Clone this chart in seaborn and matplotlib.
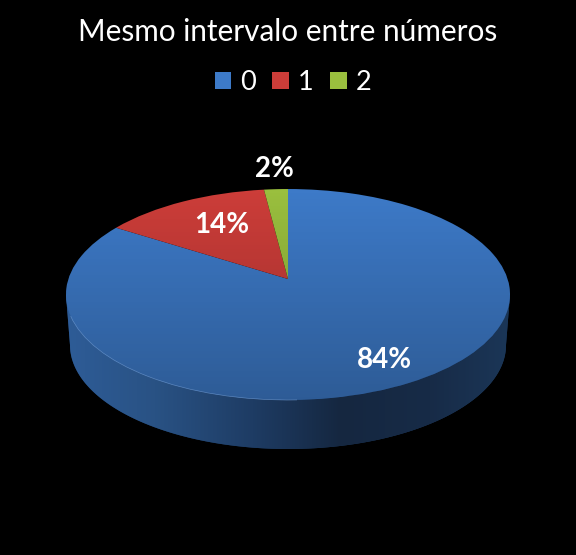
import numpy as np
import matplotlib
matplotlib.use("Agg")
import matplotlib.pyplot as plt
import seaborn as sns
from matplotlib.colors import LinearSegmentedColormap
from matplotlib.patches import Circle, PathPatch, Polygon
from matplotlib.path import Path
from matplotlib.transforms import Transform

title = "Mesmo intervalo entre números"
categories = ["0", "1", "2"]
shares = [84, 14, 2]

sns.set_theme(style="dark", rc={"axes.facecolor": "black", "figure.facecolor": "black"})
plt.rcParams["font.family"] = ["Lato", "DejaVu Sans"]
colors = sns.color_palette(["#3d7ac8", "#cc3d39", "#9abf3e"])


class Perspective(Transform):
    # tilts the unit circle of the pie so the centre sits above the ellipse middle
    input_dims = 2
    output_dims = 2
    is_separable = False
    has_inverse = False

    def transform_non_affine(self, xy):
        xy = np.asarray(xy, dtype=float)
        w = 1 + 0.147 * xy[:, 1]
        return np.column_stack([288 + 219.6 * xy[:, 0] / w, 279 - 103.2 * xy[:, 1] / w])


fig, ax = plt.subplots(figsize=(5.76, 5.55), dpi=100)
fig.subplots_adjust(0, 0, 1, 1)

wedges, _, pct = ax.pie(shares, colors=colors, startangle=90, counterclock=False,
                        autopct="%1.0f%%", wedgeprops={"linewidth": 0, "zorder": 2})
persp = Perspective() + ax.transData
for w in wedges:
    w.set_transform(persp)

# side wall of the disc, horizontal shading
t = np.linspace(np.pi, 2 * np.pi, 200)
wall_xy = np.column_stack([288 + 218 * np.cos(t), 345 - 104 * np.sin(t)])
wall_xy = np.vstack([[66, 295], wall_xy, [510, 295]])
wall = Polygon(wall_xy, closed=True, transform=ax.transData, facecolor="#1c3a60", linewidth=0, zorder=1)
ax.add_patch(wall)
wall_cmap = LinearSegmentedColormap.from_list(
    "wall", [(0, "#2e5c97"), (0.2, "#295284"), (0.42, "#1e3c64"), (0.62, "#152740"),
             (0.82, "#172b47"), (1, "#1b3657")])
wall_img = ax.imshow(np.linspace(0, 1, 256)[None, :], cmap=wall_cmap, extent=(66, 510, 449, 295),
                     aspect="auto", zorder=1.5)
wall_img.set_clip_path(wall)

# darkening from the back of the top face to the front
shade = np.zeros((256, 1, 4))
shade[:, 0, 3] = np.linspace(0, 0.25, 256)
top_face = Circle((0, 0), 1, transform=persp, facecolor="none", linewidth=0, zorder=2.4)
ax.add_patch(top_face)
shade_img = ax.imshow(shade, extent=(66, 510, 400, 189), aspect="auto", zorder=2.5)
shade_img.set_clip_path(top_face)

# thin highlight on the front left rim
ax.add_patch(PathPatch(Path.arc(200, 272), transform=persp, facecolor="none",
                       edgecolor="#6f9ad2", linewidth=0.5, alpha=0.7, zorder=3))

ax.set_aspect("auto")
ax.set_xlim(0, 576)
ax.set_ylim(555, 0)
ax.axis("off")

for txt, pos in zip(pct, [(384, 360), (222, 225), (274, 169)]):
    txt.set_position(pos)
    txt.set_transform(ax.transData)
    txt.set(color="white", fontsize=20, fontweight="bold", ha="center", va="center", zorder=5)

ax.text(288, 32, title, color="white", fontsize=21.4, ha="center", va="center")
ax.legend(wedges, categories, ncol=3, loc="center", bbox_to_anchor=(293 / 576, 1 - 82.5 / 555),
          frameon=False, labelcolor="white", fontsize=19.5, handlelength=0.62, handleheight=0.62,
          handletextpad=0.33, columnspacing=0.6)

fig.savefig("out.png", dpi=100, facecolor="black")
